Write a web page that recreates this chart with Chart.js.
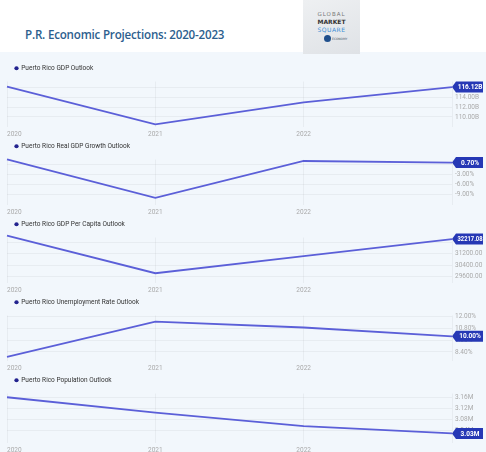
<!DOCTYPE html>
<html lang="en">
<head>
<meta charset="UTF-8">
<title>P.R. Economic Projections: 2020-2023</title>
<script src="https://cdn.jsdelivr.net/npm/chart.js"></script>
<style>
    body { margin: 0; width: 486px; height: 452px; background: #fff; position: relative; overflow: hidden; font-family: Roboto, sans-serif; }
    #title { position: absolute; left: 25px; top: 27px; font: 600 11.6px "Open Sans", sans-serif; color: #2c5e8e; letter-spacing: -0.2px; }
    #logo { position: absolute; left: 303px; top: 0; width: 57px; height: 54px; background: linear-gradient(160deg, #eef0f2, #dfe2e6); z-index: 2; text-align: center; line-height: 1; }
    #logo .g { margin-top: 11px; font: 5.5px "DejaVu Sans", sans-serif; color: #777; letter-spacing: 1px; }
    #logo .m { font: bold 6px "DejaVu Sans", sans-serif; color: #333; margin-top: 1px; }
    #logo .s { font: 6px "DejaVu Sans", sans-serif; color: #3b8fd6; margin-top: 1px; letter-spacing: 0.5px; }
    #logo .c { display: flex; align-items: center; margin: 2px 0 0 21px; font: 3px "DejaVu Sans", sans-serif; color: #456; }
    #logo .c span { width: 7px; height: 7px; border-radius: 50%; background: #1f4f8c; margin-right: 1px; }
    #panels { position: absolute; left: 0; top: 52px; width: 486px; height: 400px; background: #f2f7fc; }
    .panel { position: absolute; left: 0; width: 486px; }
</style>
</head>
<body>
    <div id="title">P.R. Economic Projections: 2020-2023</div>
    <div id="logo">
        <div class="g">GLOBAL</div>
        <div class="m">MARKET</div>
        <div class="s">SQUARE</div>
        <div class="c"><span></span>ECONOMY</div>
    </div>
    <div id="panels"></div>
    <script>
        const years = ['2020', '2021', '2022', '2023'];

        const gdp = [116.2, 108.5, 113.0, 116.12];
        const gdpGrowth = [1.7, -10.1, 1.2, 0.7];
        const gdpPerCapita = [32457, 29843, 31029, 32217.08];
        const unemployment = [7.9, 11.5, 10.9, 10.0];
        const population = [3.16, 3.105, 3.056, 3.03];

        const gdpTicks = [110, 112, 114, 116];
        const growthTicks = [-9, -6, -3, 0];
        const perCapitaTicks = [29600, 30400, 31200, 32000];
        const unemploymentTicks = [8.4, 9.6, 10.8, 12];
        const populationTicks = [3.04, 3.08, 3.12, 3.16];

        const panels = [
            { label: 'Puerto Rico GDP Outlook', data: gdp, ticks: gdpTicks, min: 107.9, max: 117.26, fmt: v => v.toFixed(2) + 'B' },
            { label: 'Puerto Rico Real GDP Growth Outlook', data: gdpGrowth, ticks: growthTicks, min: -12.38, max: 1.66, fmt: v => v.toFixed(2) + '%' },
            { label: 'Puerto Rico GDP Per Capita Outlook', data: gdpPerCapita, ticks: perCapitaTicks, min: 29150, max: 32327, fmt: v => v.toFixed(2) },
            { label: 'Puerto Rico Unemployment Rate Outlook', data: unemployment, ticks: unemploymentTicks, min: 7.455, max: 12.13, fmt: v => v.toFixed(2) + '%' },
            { label: 'Puerto Rico Population Outlook', data: population, ticks: populationTicks, min: 2.995, max: 3.1735, fmt: v => v.toFixed(2) + 'M' }
        ];
        // panel tops relative to the blue area, and heights
        const tops = [5, 83, 161, 239, 317];
        const heights = [84, 84, 84, 84, 88];

        // badge with the latest value, pointing at the end of the line
        const lastValueBadge = {
            id: 'lastValueBadge',
            afterDraw(chart, args, opts) {
                const data = chart.data.datasets[0].data;
                const i = data.length - 1;
                const x = chart.scales.x.getPixelForValue(i);
                const y = chart.scales.y.getPixelForValue(data[i]);
                const ctx = chart.ctx;
                ctx.save();
                ctx.fillStyle = '#2638b5';
                ctx.beginPath();
                ctx.moveTo(x, y);
                ctx.lineTo(x + 4, y - 5.5);
                ctx.lineTo(x + 31, y - 5.5);
                ctx.lineTo(x + 31, y + 5.5);
                ctx.lineTo(x + 4, y + 5.5);
                ctx.closePath();
                ctx.fill();
                const text = opts.fmt(data[i]);
                ctx.fillStyle = '#fff';
                ctx.font = 'bold 6.5px Roboto';
                ctx.textAlign = 'center';
                ctx.textBaseline = 'middle';
                const w = ctx.measureText(text).width;
                ctx.translate(x + 18, y + 0.5);
                ctx.scale(Math.min(1, 25 / w), 1);
                ctx.fillText(text, 0, 0);
                ctx.restore();
            }
        };

        panels.forEach((p, n) => {
            const div = document.createElement('div');
            div.className = 'panel';
            div.style.top = tops[n] + 'px';
            div.style.height = heights[n] + 'px';
            const canvas = document.createElement('canvas');
            div.appendChild(canvas);
            document.getElementById('panels').appendChild(div);

            new Chart(canvas.getContext('2d'), {
                type: 'line',
                data: {
                    labels: years,
                    datasets: [{
                        label: p.label,
                        data: p.data,
                        borderColor: '#5b5fd8',
                        backgroundColor: '#23238f',
                        borderWidth: 1.8,
                        pointRadius: 0,
                        tension: 0,
                        clip: false
                    }]
                },
                options: {
                    responsive: true,
                    maintainAspectRatio: false,
                    animation: false,
                    layout: { padding: { left: 7, right: 0, top: 0, bottom: 0 } },
                    scales: {
                        x: {
                            offset: false,
                            border: { display: false },
                            grid: { color: 'rgba(0,0,0,0.045)', drawTicks: false },
                            ticks: {
                                align: 'inner',
                                padding: 3,
                                maxRotation: 0,
                                autoSkip: false,
                                color: '#aaa',
                                font: { size: 6.5, family: 'Roboto' },
                                callback: (v, i) => i === years.length - 1 ? '' : years[i]
                            }
                        },
                        y: {
                            position: 'right',
                            min: p.min,
                            max: p.max,
                            border: { display: false },
                            grid: { color: 'rgba(0,0,0,0.045)', drawTicks: false },
                            afterBuildTicks: s => { s.ticks = p.ticks.map(v => ({ value: v })); },
                            afterFit: s => { s.width = 34; },
                            ticks: {
                                padding: 3,
                                color: '#aaa',
                                font: { size: 6.5, family: 'Roboto' },
                                callback: v => p.fmt(v)
                            }
                        }
                    },
                    plugins: {
                        legend: {
                            display: true,
                            position: 'top',
                            align: 'start',
                            labels: {
                                usePointStyle: true,
                                pointStyle: 'circle',
                                boxWidth: 3,
                                boxHeight: 3,
                                padding: 8,
                                color: '#333',
                                font: { size: 6.5, family: 'Roboto' },
                                generateLabels: chart => Chart.defaults.plugins.legend.labels.generateLabels(chart)
                                    .map(l => Object.assign(l, { lineWidth: 0, strokeStyle: 'rgba(0,0,0,0)' }))
                            }
                        },
                        tooltip: { enabled: false },
                        lastValueBadge: { fmt: p.fmt }
                    }
                },
                plugins: [lastValueBadge]
            });
        });
    </script>
</body>
</html>
